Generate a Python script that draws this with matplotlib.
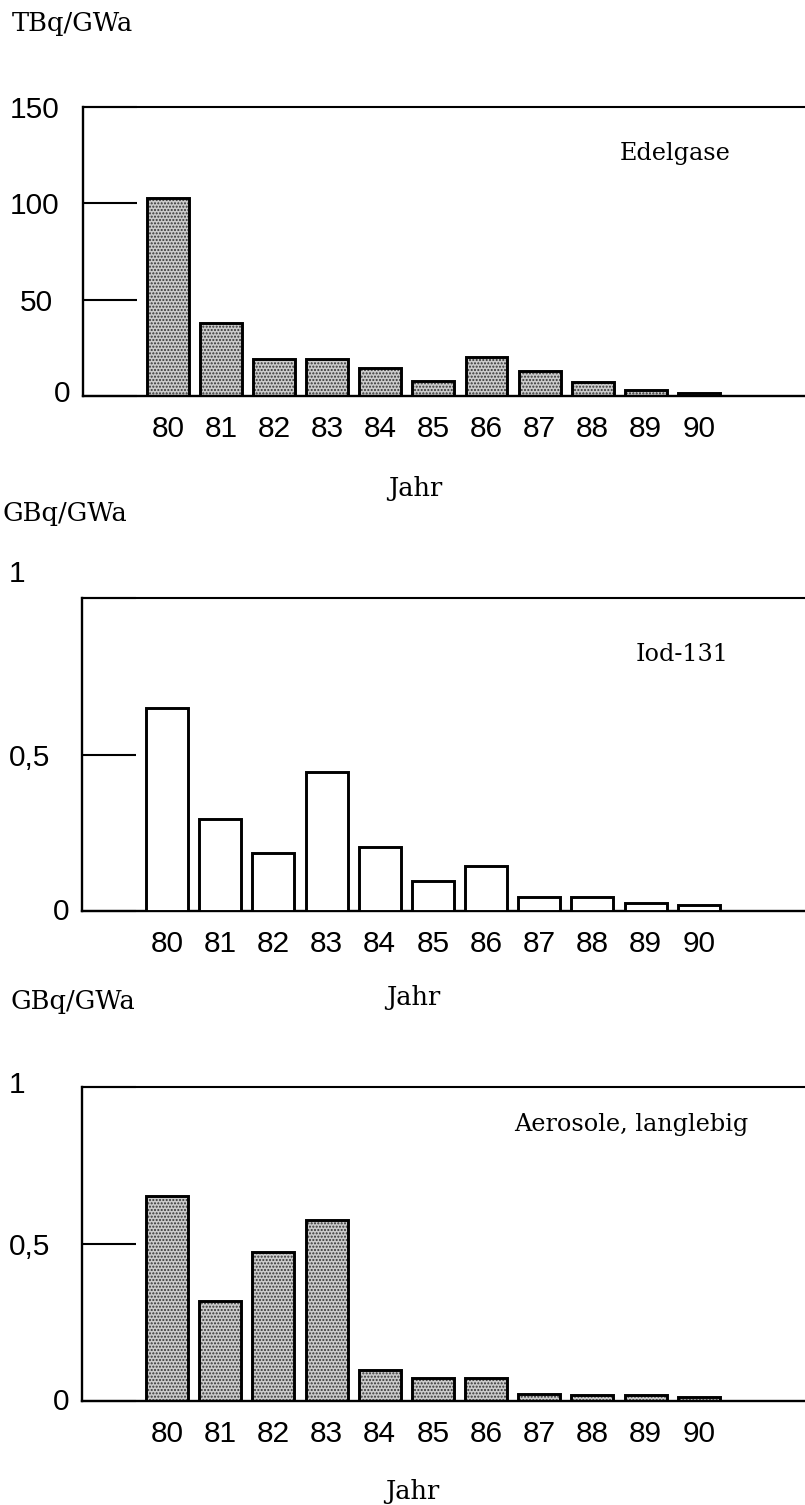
import matplotlib
matplotlib.use("Agg")
import matplotlib.pyplot as plt
from matplotlib.transforms import ScaledTranslation

# data
years = [80, 81, 82, 83, 84, 85, 86, 87, 88, 89, 90]
year_labels = [str(y) for y in years]

edelgase = [103, 38, 19.2, 19, 14.5, 7.8, 20.2, 13, 7.3, 3.1, 1.6]
iod131 = [0.65, 0.295, 0.186, 0.444, 0.205, 0.096, 0.144, 0.045, 0.045, 0.026, 0.019]
aerosole = [0.653, 0.32, 0.475, 0.576, 0.099, 0.073, 0.073, 0.022, 0.019, 0.02, 0.013]

ticks_top = [0, 50, 100, 150]
ticklabels_top = ["0", "50", "100", "150"]
ticks_small = [0, 0.5, 1]
ticklabels_small = ["0", "0,5", "1"]

W, H = 805, 1505
DPI = 100
fig = plt.figure(figsize=(W / DPI, H / DPI), dpi=DPI)

SANS = "Liberation Sans"
SERIF = "DejaVu Serif"


def px_axes(left, top, bottom):
    # axes rectangle from pixel positions, running off the right edge
    return fig.add_axes([left / W, 1 - bottom / H, 1 - left / W, (bottom - top) / H])


def panel(ax, values, ymax, ticks, ticklabels, stipple, label_shift):
    if stipple:
        ax.bar(years, values, width=0.79, color="#cbcbcb", edgecolor="#333333",
               hatch=".....", linewidth=0, zorder=2)
        ax.bar(years, values, width=0.79, facecolor="none", edgecolor="black",
               linewidth=2.1, zorder=3)
    else:
        ax.bar(years, values, width=0.79, facecolor="white", edgecolor="black",
               linewidth=2.1, zorder=3)
    ax.set_xlim(78.4, 92.0)
    ax.set_ylim(0, ymax)
    for s in ["left", "bottom"]:
        ax.spines[s].set_linewidth(1.7)
    ax.spines["top"].set_linewidth(1.5)
    ax.spines["right"].set_visible(False)
    ax.set_xticks(years)
    ax.set_xticklabels(year_labels, fontsize=21.5, family=SANS)
    ax.tick_params(axis="x", length=0, pad=14)
    ax.set_yticks(ticks)
    ax.set_yticklabels(ticklabels, fontsize=21.5, family=SANS)
    ax.tick_params(axis="y", direction="in", length=39, width=1.5, pad=53)
    labels = ax.get_yticklabels()
    for lab, (dx, dy) in zip(labels, label_shift):
        lab.set_horizontalalignment("left")
        lab.set_transform(lab.get_transform()
                          + ScaledTranslation(dx / DPI, dy / DPI, fig.dpi_scale_trans))


def ftext(x, y, s, size, ha="left"):
    fig.text(x / W, 1 - y / H, s, ha=ha, va="center", fontsize=size, family=SERIF)


ax1 = px_axes(83, 107, 396)
panel(ax1, edelgase, 150, ticks_top, ticklabels_top, True,
      [(44, 5), (10, 0), (0, 0), (0, 0)])
ax1.text(0.82, 0.84, "Edelgase", transform=ax1.transAxes, ha="center", va="center",
         fontsize=17.2, family=SERIF)

ax2 = px_axes(82, 598, 911)
panel(ax2, iod131, 1, ticks_small, ticklabels_small, False,
      [(44, 2), (0, 0), (0, 27)])
ax2.text(0.83, 0.82, "Iod-131", transform=ax2.transAxes, ha="center", va="center",
         fontsize=17.2, family=SERIF)

ax3 = px_axes(82, 1087, 1401)
panel(ax3, aerosole, 1, ticks_small, ticklabels_small, True,
      [(44, 2), (0, 0), (0, 5)])
ax3.text(0.76, 0.88, "Aerosole, langlebig", transform=ax3.transAxes, ha="center",
         va="center", fontsize=17.2, family=SERIF)

ftext(12, 24, "TBq/GWa", 18.5)
ftext(2, 514, "GBq/GWa", 18.5)
ftext(10, 1001, "GBq/GWa", 18.5)
ftext(415, 489, "Jahr", 18.5, ha="center")
ftext(413, 998, "Jahr", 18.5, ha="center")
ftext(412, 1491, "Jahr", 18.5, ha="center")

fig.savefig("out.png", dpi=DPI)
